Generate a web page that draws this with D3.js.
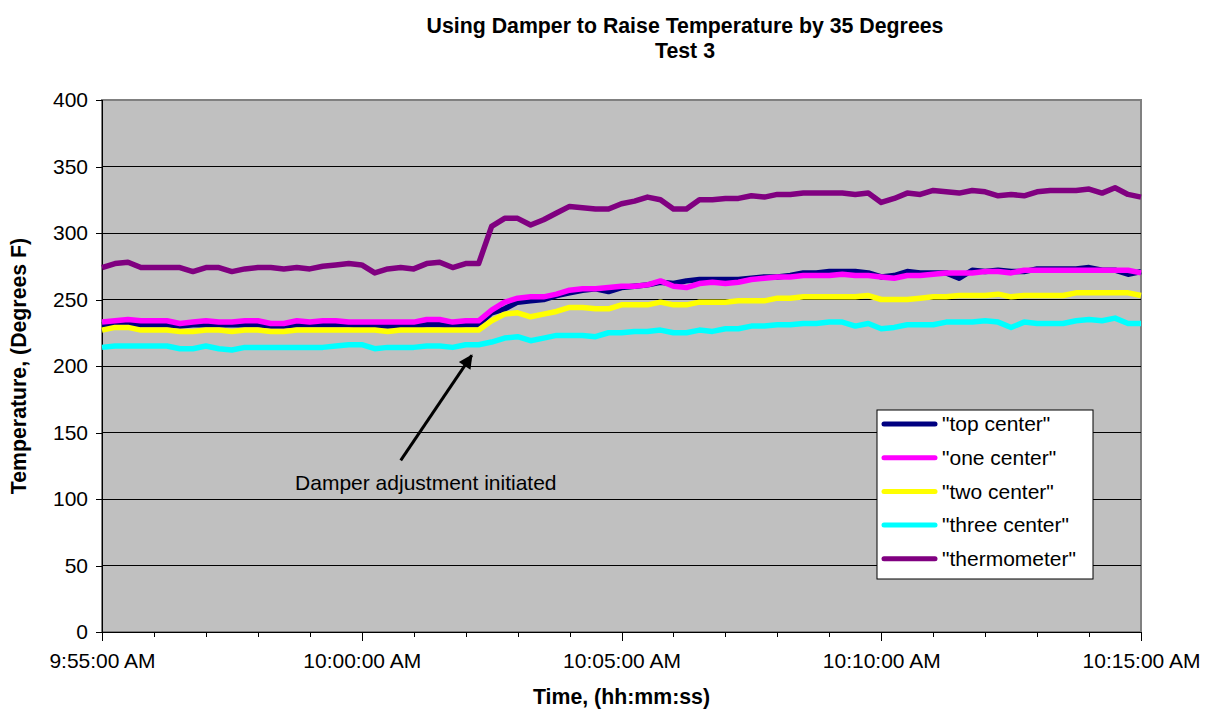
<!DOCTYPE html>
<html lang="en">

<head>
    <meta charset="UTF-8">
    <title>Using Damper to Raise Temperature by 35 Degrees</title>
    <style>
        body { margin: 0; background: #fff; }
        text { font-family: "Liberation Sans", Arial, sans-serif; }
    </style>
</head>

<body>
    <div id="chart"></div>
    <script src="https://cdn.jsdelivr.net/npm/d3@7/dist/d3.min.js"></script>
    <script>

        // readings every 15 seconds from 9:55:00 to 10:15:00
        var startTime = new Date(2000, 0, 1, 9, 55, 0)
        var stepSeconds = 15

        var seriesNames = ['"top center"', '"one center"', '"two center"', '"three center"', '"thermometer"']
        var seriesColors = ["#000080", "#ff00ff", "#ffff00", "#00ffff", "#800080"]

        var topCenter = [231, 232, 232, 231, 231, 231, 230, 231, 231, 231, 231, 231, 231, 230, 230, 231, 231, 231, 231, 231,
            230, 230, 230, 230, 230, 231, 231, 230, 231, 231, 240, 243, 248, 249, 250, 253, 255, 257, 258, 256,
            259, 260, 261, 263, 262, 264, 265, 265, 265, 265, 266, 267, 267, 268, 270, 270, 271, 271, 271, 270,
            267, 268, 271, 270, 270, 270, 266, 272, 271, 272, 271, 271, 273, 273, 273, 273, 274, 272, 272, 269, 271]

        var oneCenter = [233, 234, 235, 234, 234, 234, 232, 233, 234, 233, 233, 234, 234, 232, 232, 234, 233, 234, 234, 233,
            233, 233, 233, 233, 233, 235, 235, 233, 234, 234, 242, 248, 251, 252, 252, 254, 257, 258, 258, 259,
            260, 260, 261, 264, 260, 259, 262, 263, 262, 263, 265, 266, 267, 267, 268, 268, 268, 269, 268, 268,
            267, 266, 268, 268, 269, 270, 270, 270, 271, 271, 270, 272, 272, 272, 272, 272, 272, 272, 272, 272, 270]

        var twoCenter = [227, 229, 229, 227, 227, 227, 226, 226, 227, 227, 226, 227, 227, 226, 226, 227, 227, 227, 227, 227,
            227, 227, 226, 227, 227, 227, 227, 227, 227, 227, 234, 239, 240, 237, 239, 241, 244, 244, 243, 243,
            246, 246, 246, 248, 246, 246, 248, 248, 248, 249, 249, 249, 251, 251, 252, 252, 252, 252, 252, 253,
            250, 250, 250, 251, 252, 252, 253, 253, 253, 254, 252, 253, 253, 253, 253, 255, 255, 255, 255, 255, 253]

        var threeCenter = [214, 215, 215, 215, 215, 215, 213, 213, 215, 213, 212, 214, 214, 214, 214, 214, 214, 214, 215, 216,
            216, 213, 214, 214, 214, 215, 215, 214, 216, 216, 218, 221, 222, 219, 221, 223, 223, 223, 222, 225,
            225, 226, 226, 227, 225, 225, 227, 226, 228, 228, 230, 230, 231, 231, 232, 232, 233, 233, 230, 232,
            228, 229, 231, 231, 231, 233, 233, 233, 234, 233, 229, 233, 232, 232, 232, 234, 235, 234, 236, 232, 232]

        var thermometer = [274, 277, 278, 274, 274, 274, 274, 271, 274, 274, 271, 273, 274, 274, 273, 274, 273, 275, 276, 277,
            276, 270, 273, 274, 273, 277, 278, 274, 277, 277, 305, 311, 311, 306, 310, 315, 320, 319, 318, 318,
            322, 324, 327, 325, 318, 318, 325, 325, 326, 326, 328, 327, 329, 329, 330, 330, 330, 330, 329, 330,
            323, 326, 330, 329, 332, 331, 330, 332, 331, 328, 329, 328, 331, 332, 332, 332, 333, 330, 334, 329, 327]

        var allSeries = [topCenter, oneCenter, twoCenter, threeCenter, thermometer]

        var yTicks = [0, 50, 100, 150, 200, 250, 300, 350, 400]

        // set the dimensions and margins of the graph
        var W = 1205, H = 711
        var margin = { top: 100, right: 64, bottom: 79, left: 102 },
            width = W - margin.left - margin.right,
            height = H - margin.top - margin.bottom;

        var svg = d3.select("#chart")
            .append("svg")
            .attr("width", W)
            .attr("height", H)

        var g = svg.append("g")
            .attr("transform", "translate(" + margin.left + "," + margin.top + ")");

        var endTime = new Date(2000, 0, 1, 10, 15, 0)
        var x = d3.scaleTime()
            .domain([startTime, endTime])
            .range([0, width]);

        var y = d3.scaleLinear()
            .domain([0, 400])
            .range([height, 0]);

        // plot background
        g.append("rect")
            .attr("width", width)
            .attr("height", height)
            .attr("fill", "#c0c0c0")
            .attr("stroke", "#808080")
            .attr("stroke-width", 2)

        // gridlines
        g.selectAll(".grid")
            .data(yTicks.filter(function (d) { return d > 0 && d < 400 }))
            .enter()
            .append("line")
            .attr("x1", 0)
            .attr("x2", width)
            .attr("y1", function (d) { return y(d) })
            .attr("y2", function (d) { return y(d) })
            .attr("stroke", "#000")
            .attr("stroke-width", 1)
            .attr("shape-rendering", "crispEdges")

        // Y axis
        var yAxis = g.append("g")
            .call(d3.axisLeft(y).tickValues(yTicks).tickSize(6).tickPadding(8))
        yAxis.selectAll("text").style("font-size", "21px").attr("fill", "#000")
        yAxis.selectAll("line, path").attr("stroke", "#000").attr("shape-rendering", "crispEdges")

        // X axis: minor ticks every minute, labels every 5 minutes
        var xMinor = g.append("g")
            .attr("transform", "translate(0," + height + ")")
            .call(d3.axisBottom(x).ticks(d3.timeMinute.every(1)).tickSize(5).tickFormat(""))
        xMinor.selectAll("line, path").attr("stroke", "#000").attr("shape-rendering", "crispEdges")
        xMinor.select(".domain").remove()

        var xMajor = g.append("g")
            .attr("transform", "translate(0," + height + ")")
            .call(d3.axisBottom(x).ticks(d3.timeMinute.every(5)).tickSize(9).tickPadding(12)
                .tickFormat(d3.timeFormat("%-I:%M:%S %p")))
        xMajor.selectAll("text").style("font-size", "21px").attr("fill", "#000")
        xMajor.selectAll("line, path").attr("stroke", "#000").attr("shape-rendering", "crispEdges")

        // lines
        var line = d3.line()
            .x(function (d, i) { return x(new Date(startTime.getTime() + i * stepSeconds * 1000)) })
            .y(function (d) { return y(d) })

        g.selectAll(".series")
            .data(allSeries)
            .enter()
            .append("path")
            .attr("fill", "none")
            .attr("stroke", function (d, i) { return seriesColors[i] })
            .attr("stroke-width", 5.5)
            .attr("stroke-linejoin", "round")
            .attr("d", line)

        // annotation arrow
        var arrowTail = { time: new Date(2000, 0, 1, 10, 0, 45), value: 129 }
        var arrowTip = { time: new Date(2000, 0, 1, 10, 2, 7), value: 208 }
        var noteAt = { time: new Date(2000, 0, 1, 9, 58, 43), value: 107 }

        svg.append("defs").append("marker")
            .attr("id", "head")
            .attr("viewBox", "0 0 10 10")
            .attr("refX", 9).attr("refY", 5)
            .attr("markerUnits", "userSpaceOnUse")
            .attr("markerWidth", 17).attr("markerHeight", 14)
            .attr("orient", "auto")
            .append("path")
            .attr("d", "M0,0 L10,5 L0,10 z")
            .attr("fill", "#000")

        g.append("line")
            .attr("x1", x(arrowTail.time)).attr("y1", y(arrowTail.value))
            .attr("x2", x(arrowTip.time)).attr("y2", y(arrowTip.value))
            .attr("stroke", "#000")
            .attr("stroke-width", 3)
            .attr("marker-end", "url(#head)")

        g.append("text")
            .attr("x", x(noteAt.time))
            .attr("y", y(noteAt.value))
            .style("font-size", "21px")
            .text("Damper adjustment initiated")

        // legend
        var legend = svg.append("g").attr("transform", "translate(877,410)")
        legend.append("rect")
            .attr("width", 216).attr("height", 169)
            .attr("fill", "#fff").attr("stroke", "#000").attr("stroke-width", 1)
        var items = legend.selectAll(".item")
            .data(seriesNames)
            .enter()
            .append("g")
            .attr("transform", function (d, i) { return "translate(0," + (14 + i * 33.7) + ")" })
        items.append("line")
            .attr("x1", 7).attr("x2", 58)
            .attr("stroke", function (d, i) { return seriesColors[i] })
            .attr("stroke-width", 5)
            .attr("stroke-linecap", "round")
        items.append("text")
            .attr("x", 65).attr("dy", "0.35em")
            .style("font-size", "21px")
            .text(function (d) { return d })

        // titles
        svg.append("text")
            .attr("x", 685).attr("y", 33)
            .attr("text-anchor", "middle")
            .style("font-size", "21.3px").style("font-weight", "bold")
            .text("Using Damper to Raise Temperature by 35 Degrees")
        svg.append("text")
            .attr("x", 685).attr("y", 58)
            .attr("text-anchor", "middle")
            .style("font-size", "21.3px").style("font-weight", "bold")
            .text("Test 3")

        svg.append("text")
            .attr("x", margin.left + width / 2).attr("y", 704)
            .attr("text-anchor", "middle")
            .style("font-size", "21.3px").style("font-weight", "bold")
            .text("Time, (hh:mm:ss)")

        svg.append("text")
            .attr("transform", "translate(26," + (margin.top + height / 2) + ") rotate(-90)")
            .attr("text-anchor", "middle")
            .style("font-size", "21.3px").style("font-weight", "bold")
            .text("Temperature, (Degrees F)")

    </script>
</body>

</html>
